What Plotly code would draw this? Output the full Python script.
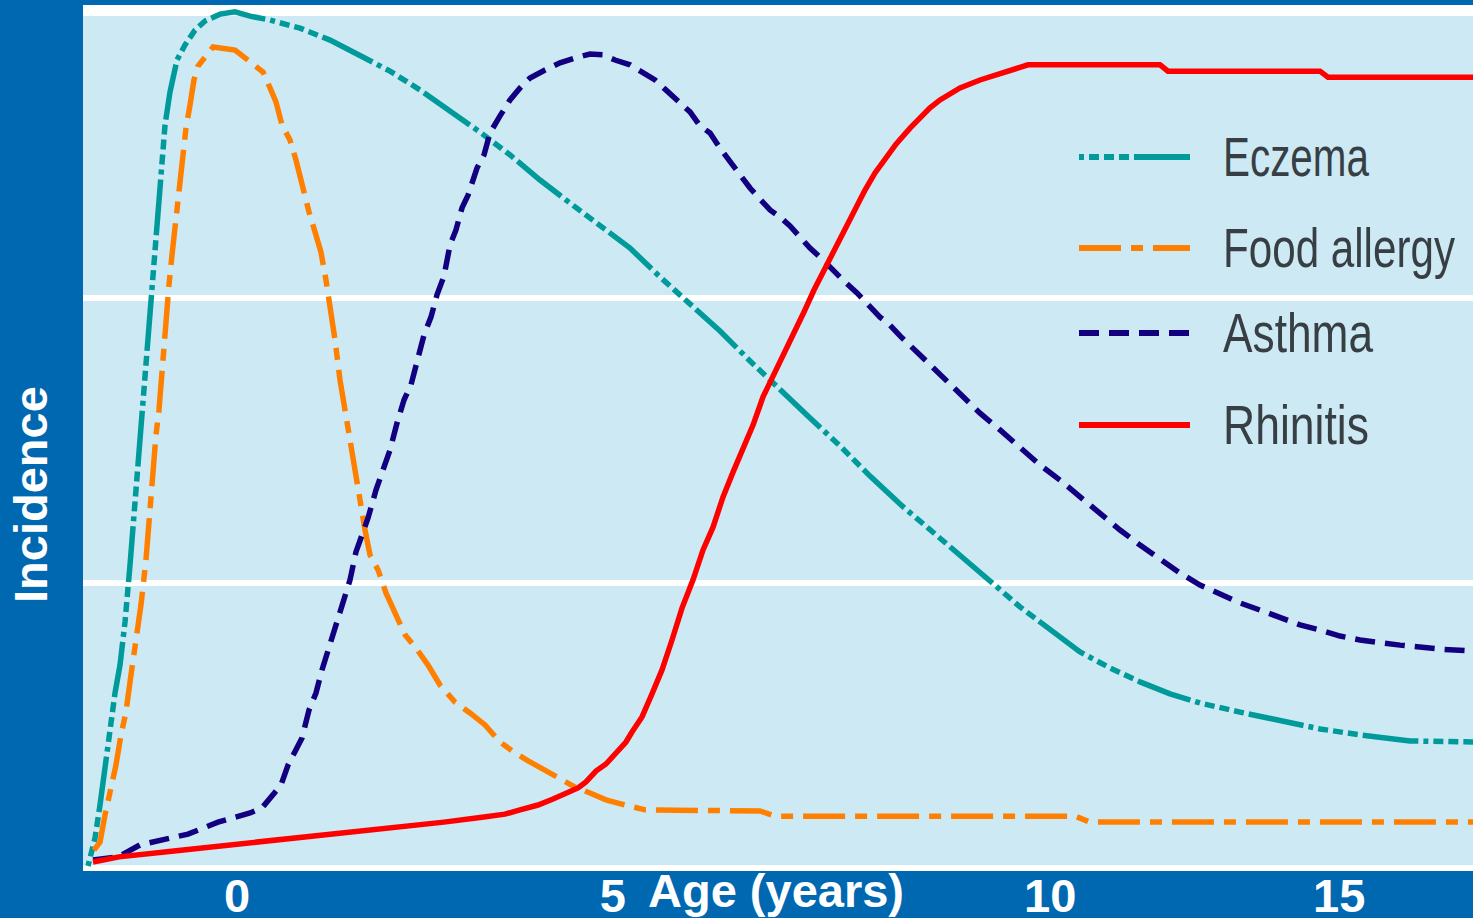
import json
import plotly.graph_objects as go

# ---------------- data (age in years, relative incidence) ----------------
SERIES_NAMES = ["Eczema", "Food allergy", "Asthma", "Rhinitis"]

ECZEMA_AGE = [-2.026, -1.931, -1.863, -1.795, -1.727, -1.659, -1.591, -1.523, -1.455, -1.387,
              -1.319, -1.251, -1.183, -1.115, -1.047, -0.979, -0.911, -0.816, -0.707, -0.571,
              -0.435, -0.231, -0.027, 0.177, 0.449, 0.857, 1.265, 1.673, 2.081, 2.489,
              2.897, 3.305, 3.713, 4.121, 4.529, 4.937, 5.345, 5.753, 6.161, 6.569,
              6.977, 7.385, 7.793, 8.201, 8.609, 9.017, 9.425, 9.833, 10.241, 10.649,
              11.057, 11.465, 11.873, 12.281, 12.689, 13.097, 13.641, 14.185, 14.729, 15.273,
              15.953, 16.810]
ECZEMA_INC = [0.007, 0.105, 0.221, 0.358, 0.498, 0.614, 0.712, 0.863, 1.063, 1.291,
              1.512, 1.730, 1.975, 2.186, 2.414, 2.607, 2.723, 2.835, 2.888, 2.940,
              2.972, 2.996, 3.004, 2.989, 2.975, 2.947, 2.905, 2.853, 2.796, 2.730,
              2.656, 2.582, 2.502, 2.414, 2.333, 2.253, 2.175, 2.074, 1.982, 1.884,
              1.779, 1.677, 1.579, 1.481, 1.375, 1.277, 1.189, 1.098, 1.007, 0.916,
              0.835, 0.758, 0.702, 0.653, 0.611, 0.579, 0.547, 0.519, 0.488, 0.467,
              0.446, 0.442]

FOOD_AGE = [-1.945, -1.863, -1.795, -1.727, -1.646, -1.578, -1.510, -1.442, -1.374, -1.306,
            -1.238, -1.197, -1.156, -1.102, -1.061, -1.020, -0.966, -0.925, -0.884, -0.843,
            -0.802, -0.748, -0.694, -0.639, -0.585, -0.530, -0.435, -0.326, -0.027, 0.177,
            0.354, 0.449, 0.530, 0.612, 0.721, 0.802, 0.884, 0.979, 1.061, 1.142,
            1.210, 1.265, 1.333, 1.401, 1.469, 1.537, 1.605, 1.673, 1.741, 1.809,
            1.918, 2.026, 2.162, 2.285, 2.434, 2.598, 2.761, 2.965, 3.169, 3.373,
            3.577, 3.781, 3.985, 4.189, 4.393, 4.597, 4.801, 5.018, 5.277, 5.549,
            7.113, 7.317, 11.397, 11.601, 16.810]
FOOD_INC = [0.063, 0.091, 0.186, 0.263, 0.361, 0.467, 0.547, 0.677, 0.800, 0.923,
            1.081, 1.221, 1.361, 1.519, 1.607, 1.747, 1.940, 2.046, 2.151, 2.256,
            2.361, 2.502, 2.596, 2.677, 2.765, 2.814, 2.849, 2.881, 2.870, 2.828,
            2.793, 2.737, 2.688, 2.607, 2.554, 2.484, 2.396, 2.302, 2.232, 2.161,
            2.063, 1.975, 1.853, 1.712, 1.607, 1.502, 1.379, 1.291, 1.186, 1.098,
            1.046, 0.965, 0.888, 0.818, 0.772, 0.712, 0.642, 0.582, 0.544, 0.502,
            0.442, 0.404, 0.372, 0.344, 0.312, 0.284, 0.263, 0.239, 0.221, 0.204,
            0.200, 0.182, 0.182, 0.161, 0.161]

ASTHMA_AGE = [-1.958, -1.618, -1.319, -0.993, -0.666, -0.258, 0.177, 0.340, 0.449, 0.598,
              0.694, 0.789, 0.884, 0.979, 1.074, 1.156, 1.238, 1.333, 1.428, 1.537,
              1.618, 1.700, 1.782, 1.890, 1.986, 2.081, 2.176, 2.271, 2.366, 2.448,
              2.543, 2.638, 2.720, 2.815, 2.897, 2.978, 3.060, 3.142, 3.264, 3.359,
              3.441, 3.577, 3.713, 3.849, 3.985, 4.189, 4.393, 4.597, 4.801, 4.978,
              5.141, 5.345, 5.481, 5.685, 5.821, 6.025, 6.161, 6.297, 6.433, 6.569,
              6.705, 6.841, 6.977, 7.113, 7.249, 7.385, 7.521, 7.657, 7.793, 7.956,
              8.106, 8.269, 8.432, 8.609, 8.745, 8.881, 9.017, 9.289, 9.561, 9.833,
              10.105, 10.377, 10.649, 10.921, 11.193, 11.465, 11.737, 12.009, 12.281, 12.553,
              12.825, 13.097, 13.369, 13.641, 13.913, 14.185, 14.457, 14.729, 15.001, 15.273,
              15.545, 15.817, 16.361, 16.810]
ASTHMA_INC = [0.028, 0.039, 0.081, 0.098, 0.119, 0.161, 0.193, 0.211, 0.242, 0.291,
              0.361, 0.404, 0.456, 0.554, 0.614, 0.695, 0.765, 0.853, 0.923, 1.011,
              1.109, 1.168, 1.228, 1.326, 1.404, 1.467, 1.561, 1.642, 1.695, 1.782,
              1.870, 1.933, 2.011, 2.077, 2.186, 2.239, 2.316, 2.361, 2.456, 2.502,
              2.579, 2.639, 2.695, 2.737, 2.772, 2.800, 2.825, 2.842, 2.856, 2.853,
              2.835, 2.818, 2.796, 2.765, 2.733, 2.684, 2.653, 2.604, 2.579, 2.526,
              2.477, 2.428, 2.386, 2.347, 2.309, 2.284, 2.253, 2.214, 2.175, 2.137,
              2.095, 2.056, 2.018, 1.972, 1.933, 1.905, 1.867, 1.800, 1.730, 1.660,
              1.596, 1.537, 1.477, 1.414, 1.361, 1.302, 1.239, 1.186, 1.133, 1.081,
              1.035, 0.993, 0.961, 0.930, 0.905, 0.877, 0.853, 0.835, 0.814, 0.800,
              0.789, 0.782, 0.768, 0.761]

RHINITIS_AGE = [-1.958, -1.605, -0.857, -0.095, 0.666, 1.428, 2.122, 2.815, 3.359, 3.645,
                3.849, 4.094, 4.298, 4.461, 4.638, 4.746, 4.882, 5.018, 5.154, 5.290,
                5.372, 5.508, 5.644, 5.780, 5.916, 6.052, 6.202, 6.338, 6.474, 6.610,
                6.746, 6.882, 7.018, 7.154, 7.303, 7.439, 7.575, 7.711, 7.847, 7.997,
                8.133, 8.269, 8.405, 8.541, 8.677, 8.826, 8.962, 9.153, 9.289, 9.425,
                9.561, 9.833, 10.105, 10.377, 10.649, 10.757, 12.553, 12.661, 14.729, 14.837,
                16.810]
RHINITIS_INC = [0.021, 0.039, 0.060, 0.081, 0.102, 0.119, 0.140, 0.161, 0.179, 0.189,
                0.204, 0.221, 0.242, 0.263, 0.281, 0.302, 0.340, 0.365, 0.404, 0.442,
                0.477, 0.530, 0.611, 0.695, 0.800, 0.912, 1.011, 1.116, 1.196, 1.302,
                1.389, 1.474, 1.554, 1.653, 1.730, 1.811, 1.881, 1.951, 2.028, 2.105,
                2.179, 2.249, 2.309, 2.379, 2.439, 2.491, 2.540, 2.596, 2.632, 2.667,
                2.695, 2.737, 2.765, 2.786, 2.807, 2.818, 2.818, 2.796, 2.796, 2.775,
                2.775]

TICK_POS = [0, 5.11, 11.06, 14.99]
TICK_TEXT = ["0", "5", "10", "15"]
GRID_VALUES = [0, 1, 2, 3]

# ---------------- styles ----------------
COLORS = ["#009a9a", "#ff8000", "#120080", "#ff0000"]
DASHES = ["5px,5px,10px,5px,10px,5px,10px,5px,56px,5px",
          "42px,10px,12px,10px",
          "20px,10px",
          "solid"]
LEGEND_TEXT_WIDTHS = [146, 232, 150, 146]   # condensed legend lettering (px)
OUTER_BLUE = "#0068b0"
PLOT_BG = "#cdeaf4"
W, H = 1473, 918
L, R, T, B = 83, 0, 5, 47

series = [(ECZEMA_AGE, ECZEMA_INC), (FOOD_AGE, FOOD_INC),
          (ASTHMA_AGE, ASTHMA_INC), (RHINITIS_AGE, RHINITIS_INC)]

fig = go.Figure()
for name, (xs, ys), col, dash in zip(SERIES_NAMES, series, COLORS, DASHES):
    fig.add_trace(go.Scatter(x=xs, y=ys, mode="lines", name=name,
                             line=dict(color=col, width=5.5, dash=dash),
                             showlegend=False, hoverinfo="skip"))

pw = W - L - R
ph = H - T - B


def px_x(p):
    return (p - L) / pw


def px_y(p):
    return (H - B - p) / ph


shapes = [dict(type="rect", xref="paper", yref="paper", x0=0, x1=1,
               y0=px_y(16), y1=1, fillcolor="white", line=dict(width=0), layer="below")]
annotations = []

legend_rows = [157, 248, 333, 425]
for name, col, dash, row in zip(SERIES_NAMES, COLORS, DASHES, legend_rows):
    shapes.append(dict(type="line", xref="paper", yref="paper",
                       x0=px_x(1079), x1=px_x(1190), y0=px_y(row), y1=px_y(row),
                       line=dict(color=col, width=6, dash=dash)))
    annotations.append(dict(text=name, xref="paper", yref="paper",
                            x=px_x(1221), y=px_y(row), xanchor="left", yanchor="middle",
                            showarrow=False,
                            font=dict(family="Liberation Sans", size=55, color="#373f44")))

annotations.append(dict(text="Age (years)", xref="paper", yref="paper",
                        x=px_x(776), y=px_y(891), xanchor="center", yanchor="middle",
                        showarrow=False,
                        font=dict(family="Liberation Sans", size=47, color="white", weight="bold")))
annotations.append(dict(text="Incidence", xref="paper", yref="paper", textangle=-90,
                        x=px_x(30), y=px_y(495), xanchor="center", yanchor="middle",
                        showarrow=False,
                        font=dict(family="Liberation Sans", size=47, color="white", weight="bold")))

fig.update_layout(
    width=W, height=H,
    margin=dict(l=L, r=R, t=T, b=B, pad=0),
    paper_bgcolor=OUTER_BLUE, plot_bgcolor=PLOT_BG,
    shapes=shapes, annotations=annotations, showlegend=False,
    xaxis=dict(range=[(L - 237) / 73.53, (W - R - 237) / 73.53], showgrid=False, zeroline=False,
               tickvals=TICK_POS, ticktext=TICK_TEXT, ticks="", showline=False,
               ticklabelstandoff=-7,
               tickfont=dict(family="Liberation Sans", size=47, color="white", weight="bold"),
               automargin=False, fixedrange=True),
    yaxis=dict(range=[-3 / 285, 863 / 285], tickvals=GRID_VALUES, showticklabels=False,
               showgrid=True, gridcolor="white", gridwidth=6, zeroline=False, ticks="",
               showline=False, automargin=False, fixedrange=True),
)

targets = json.dumps(dict(zip(SERIES_NAMES, LEGEND_TEXT_WIDTHS)))
post = """
document.body.style.margin = '0';
document.body.style.overflow = 'hidden';
var gd = document.getElementById('{plot_id}');
var targets = %s;
gd.querySelectorAll('text.annotation-text').forEach(function (el) {
  var t = el.textContent;
  if (targets[t]) {
    var b0 = el.getBBox();
    el.setAttribute('textLength', targets[t]);
    el.setAttribute('lengthAdjust', 'spacingAndGlyphs');
    var b1 = el.getBBox();
    var x = parseFloat(el.getAttribute('x') || '0');
    el.setAttribute('x', x + (b0.x - b1.x));
  }
});
""" % targets

fig.write_html("out.html", post_script=post, config={"displayModeBar": False})
